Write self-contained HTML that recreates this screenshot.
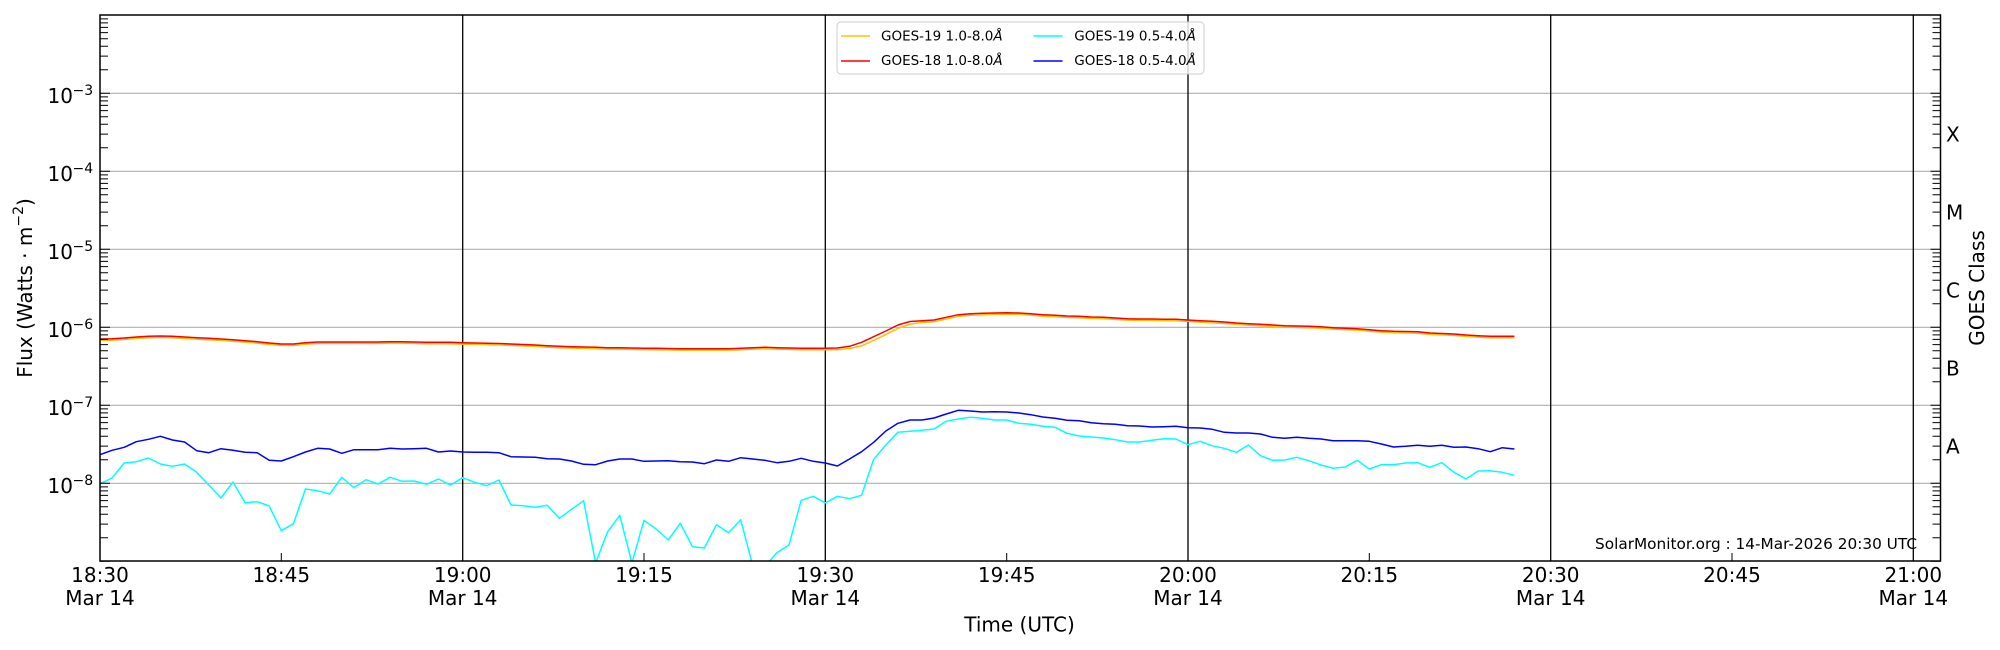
<!DOCTYPE html>
<html>
<head>
<meta charset="utf-8">
<style>
  html, body { margin: 0; padding: 0; background: #ffffff; }
  svg { display: block; }
  text { font-family: "DejaVu Sans", "Liberation Sans", sans-serif; fill: #000; }
</style>
</head>
<body>
<svg width="2000" height="650" viewBox="0 0 2000 650" xmlns="http://www.w3.org/2000/svg">
  <defs>
    <clipPath id="plot"><rect x="100" y="15" width="1840.5" height="546"/></clipPath>
    <path id="dec" d="M0,0h10M0,-23.5h8M0,-37.2h8M0,-47h8M0,-54.5h8M0,-60.7h8M0,-65.9h8M0,-70.4h8M0,-74.4h8" stroke="#000" stroke-width="1" fill="none"/>
  </defs>
  <rect x="0" y="0" width="2000" height="650" fill="#fff"/>

  <!-- horizontal grid -->
  <g stroke="#b0b0b0" stroke-width="1.2">
    <line x1="100" y1="93.3" x2="1940" y2="93.3"/>
    <line x1="100" y1="171.3" x2="1940" y2="171.3"/>
    <line x1="100" y1="249.3" x2="1940" y2="249.3"/>
    <line x1="100" y1="327.3" x2="1940" y2="327.3"/>
    <line x1="100" y1="405.3" x2="1940" y2="405.3"/>
    <line x1="100" y1="483.3" x2="1940" y2="483.3"/>
  </g>

  <!-- vertical black lines -->
  <g stroke="#000" stroke-width="1.3">
    <line x1="462.7" y1="15" x2="462.7" y2="561"/>
    <line x1="825.3" y1="15" x2="825.3" y2="561"/>
    <line x1="1188" y1="15" x2="1188" y2="561"/>
    <line x1="1550.7" y1="15" x2="1550.7" y2="561"/>
    <line x1="1913.3" y1="15" x2="1913.3" y2="561"/>
  </g>

  <!-- data -->
  <g clip-path="url(#plot)" fill="none" stroke-width="1.5" stroke-linejoin="round">
    <polyline stroke="#00ffff" points="100,483.7 112.1,478 124.2,463 136.3,461.7 148.4,458 160.4,464 172.5,466.3 184.6,464 196.7,472.3 208.8,485 220.9,498 233,482 245.1,502.7 257.2,501.7 269.2,506 281.3,530.7 293.4,523.7 305.5,489 317.6,490.7 329.7,494 341.8,477.3 353.9,487.7 366,479.7 378,484 390.1,477.3 402.2,481.3 414.3,481 426.4,484.3 438.5,479 450.6,485 462.7,477.7 474.8,482.3 486.8,485.7 498.9,480 511,505 523.1,505.7 535.2,507.3 547.3,505.3 559.4,518.3 571.5,509.3 583.6,500.7 595.6,563 607.7,531.7 619.8,515.3 631.9,563 644,520.3 656.1,529 668.2,540 680.3,523.3 692.4,546.7 704.4,548 716.5,524.7 728.6,532.7 740.7,519.7 752.8,566 764.9,566 777,552.7 789.1,544.7 801.2,500.3 813.2,496.3 825.3,503 837.4,496.3 849.5,498.7 861.6,495.3 873.7,459.3 885.8,445 897.9,432.3 910,431.3 922,430.3 934.1,429 946.2,421.3 958.3,419 970.4,417.3 982.5,418.3 994.6,420 1006.7,420 1018.8,423.3 1030.8,424.3 1042.9,426.3 1055,427.3 1067.1,433.3 1079.2,436 1091.3,437 1103.4,438 1115.5,439.7 1127.6,442 1139.6,442 1151.7,440.3 1163.8,438.7 1175.9,439 1188,444.7 1200.1,441.3 1212.2,445.7 1224.3,448.3 1236.4,452.3 1248.4,445 1260.5,455.7 1272.6,460.3 1284.7,460 1296.8,457.3 1308.9,460.7 1321,465 1333.1,468.3 1345.2,467 1357.2,460.3 1369.3,469 1381.4,464.7 1393.5,464.7 1405.6,463 1417.7,462.7 1429.8,467.3 1441.9,462.7 1454,472.3 1466,479 1478.1,471 1490.2,470.7 1502.3,472.3 1514.4,475.3"/>
    <polyline stroke="#0000ff" points="100,454.7 112.1,450.3 124.2,447.3 136.3,441.7 148.4,439.3 160.4,436.3 172.5,440 184.6,442 196.7,450.7 208.8,452.7 220.9,448.7 233,450.3 245.1,452.3 257.2,452.7 269.2,460.3 281.3,461 293.4,456.7 305.5,452 317.6,448.3 329.7,449 341.8,453.3 353.9,449.7 366,449.7 378,449.7 390.1,448.3 402.2,449 414.3,448.7 426.4,448.3 438.5,452 450.6,451 462.7,452 474.8,452.3 486.8,452.3 498.9,452.7 511,456.7 523.1,457 535.2,457.3 547.3,458.7 559.4,459 571.5,461 583.6,464.3 595.6,464.7 607.7,461 619.8,459 631.9,459 644,461.3 656.1,461 668.2,460.7 680.3,461.7 692.4,462 704.4,463.7 716.5,460 728.6,461.3 740.7,457.7 752.8,459 764.9,460.3 777,462.7 789.1,461.3 801.2,458.3 813.2,461.3 825.3,463 837.4,466 849.5,459 861.6,451.7 873.7,442.3 885.8,431 897.9,423.3 910,420 922,420 934.1,418 946.2,414 958.3,410.3 970.4,411 982.5,412 994.6,411.7 1006.7,412 1018.8,413 1030.8,414.7 1042.9,417 1055,418.3 1067.1,420.3 1079.2,420.7 1091.3,422.7 1103.4,423.7 1115.5,424.3 1127.6,425.7 1139.6,426 1151.7,427 1163.8,426.7 1175.9,426.3 1188,427.7 1200.1,428 1212.2,429.3 1224.3,432.3 1236.4,433 1248.4,433 1260.5,434 1272.6,437.3 1284.7,438.3 1296.8,437.3 1308.9,438.3 1321,439 1333.1,440.7 1345.2,440.7 1357.2,440.7 1369.3,441.3 1381.4,444 1393.5,447 1405.6,446.3 1417.7,445.3 1429.8,446.3 1441.9,445.3 1454,447.3 1466,447 1478.1,448.7 1490.2,451.7 1502.3,447.7 1514.4,449"/>
    <polyline stroke="#ffc000" transform="translate(0,1.4)" points="100,339 112.1,338.7 124.2,338 136.3,337 148.4,336.3 160.4,336 172.5,336.3 184.6,337 196.7,337.7 208.8,338.3 220.9,339 233,339.7 245.1,340.7 257.2,341.7 269.2,343 281.3,344 293.4,344 305.5,342.7 317.6,342 329.7,342 341.8,342 353.9,342 366,342 378,342 390.1,341.7 402.2,341.7 414.3,342 426.4,342.3 438.5,342.3 450.6,342.3 462.7,342.7 474.8,343 486.8,343.3 498.9,343.5 511,344 523.1,344.5 535.2,345 547.3,345.7 559.4,346.3 571.5,346.7 583.6,347 595.6,347.3 607.7,347.7 619.8,347.8 631.9,348 644,348.2 656.1,348.3 668.2,348.5 680.3,348.7 692.4,348.7 704.4,348.7 716.5,348.7 728.6,348.7 740.7,348.3 752.8,347.7 764.9,347.3 777,347.7 789.1,348 801.2,348.3 813.2,348.3 825.3,348.3 837.4,348.2 849.5,347.2 861.6,344.5 873.7,339 885.8,333.2 897.9,327 910,322.8 922,321 934.1,320.3 946.2,317.6 958.3,314.9 970.4,313.8 982.5,313.3 994.6,313 1006.7,312.7 1018.8,313 1030.8,313.7 1042.9,314.7 1055,315.3 1067.1,316 1079.2,316.3 1091.3,317 1103.4,317.3 1115.5,318 1127.6,318.7 1139.6,319 1151.7,319 1163.8,319.3 1175.9,319.3 1188,320 1200.1,320.7 1212.2,321.3 1224.3,322 1236.4,323 1248.4,323.7 1260.5,324.3 1272.6,325 1284.7,325.7 1296.8,326 1308.9,326.3 1321,326.7 1333.1,327.7 1345.2,328.2 1357.2,328.7 1369.3,329.7 1381.4,330.7 1393.5,331.3 1405.6,331.5 1417.7,331.7 1429.8,333 1441.9,333.5 1454,334 1466,335 1478.1,335.7 1490.2,336.3 1502.3,336.3 1514.4,336.3"/>
    <polyline stroke="#ff0000" points="100,339 112.1,338.7 124.2,338 136.3,337 148.4,336.3 160.4,336 172.5,336.3 184.6,337 196.7,337.7 208.8,338.3 220.9,339 233,339.7 245.1,340.7 257.2,341.7 269.2,343 281.3,344 293.4,344 305.5,342.7 317.6,342 329.7,342 341.8,342 353.9,342 366,342 378,342 390.1,341.7 402.2,341.7 414.3,342 426.4,342.3 438.5,342.3 450.6,342.3 462.7,342.7 474.8,343 486.8,343.3 498.9,343.5 511,344 523.1,344.5 535.2,345 547.3,345.7 559.4,346.3 571.5,346.7 583.6,347 595.6,347.3 607.7,347.7 619.8,347.8 631.9,348 644,348.2 656.1,348.3 668.2,348.5 680.3,348.7 692.4,348.7 704.4,348.7 716.5,348.7 728.6,348.7 740.7,348.3 752.8,347.7 764.9,347.3 777,347.7 789.1,348 801.2,348.3 813.2,348.3 825.3,348.3 837.4,348 849.5,346.3 861.6,342.3 873.7,336.7 885.8,331 897.9,325 910,321.5 922,320.7 934.1,320 946.2,317.3 958.3,314.7 970.4,313.7 982.5,313.3 994.6,313 1006.7,312.7 1018.8,313 1030.8,313.7 1042.9,314.7 1055,315.3 1067.1,316 1079.2,316.3 1091.3,317 1103.4,317.3 1115.5,318 1127.6,318.7 1139.6,319 1151.7,319 1163.8,319.3 1175.9,319.3 1188,320 1200.1,320.7 1212.2,321.3 1224.3,322 1236.4,323 1248.4,323.7 1260.5,324.3 1272.6,325 1284.7,325.7 1296.8,326 1308.9,326.3 1321,326.7 1333.1,327.7 1345.2,328.2 1357.2,328.7 1369.3,329.7 1381.4,330.7 1393.5,331.3 1405.6,331.5 1417.7,331.7 1429.8,333 1441.9,333.5 1454,334 1466,335 1478.1,335.7 1490.2,336.3 1502.3,336.3 1514.4,336.3"/>
  </g>

  <!-- y ticks left -->
  <use href="#dec" transform="translate(100,561.3)"/>
  <use href="#dec" transform="translate(100,483.3)"/>
  <use href="#dec" transform="translate(100,405.3)"/>
  <use href="#dec" transform="translate(100,327.3)"/>
  <use href="#dec" transform="translate(100,249.3)"/>
  <use href="#dec" transform="translate(100,171.3)"/>
  <use href="#dec" transform="translate(100,93.3)"/>
  <!-- y ticks right -->
  <use href="#dec" transform="translate(1940.5,561.3) scale(-1,1)"/>
  <use href="#dec" transform="translate(1940.5,483.3) scale(-1,1)"/>
  <use href="#dec" transform="translate(1940.5,405.3) scale(-1,1)"/>
  <use href="#dec" transform="translate(1940.5,327.3) scale(-1,1)"/>
  <use href="#dec" transform="translate(1940.5,249.3) scale(-1,1)"/>
  <use href="#dec" transform="translate(1940.5,171.3) scale(-1,1)"/>
  <use href="#dec" transform="translate(1940.5,93.3) scale(-1,1)"/>

  <!-- x ticks -->
  <g stroke="#000" stroke-width="1">
    <line x1="281.3" y1="561" x2="281.3" y2="553"/>
    <line x1="644" y1="561" x2="644" y2="553"/>
    <line x1="1006.7" y1="561" x2="1006.7" y2="553"/>
    <line x1="1369.3" y1="561" x2="1369.3" y2="553"/>
    <line x1="1732" y1="561" x2="1732" y2="553"/>
  </g>

  <!-- frame -->
  <rect x="100" y="15" width="1840.5" height="546" fill="none" stroke="#000" stroke-width="1.5"/>

  <!-- legend -->
  <rect x="837" y="22" width="367" height="52" rx="4" ry="4" fill="#ffffff" fill-opacity="0.8" stroke="#cccccc" stroke-width="1"/>
  <g stroke-width="1.5">
    <line x1="841" y1="36" x2="870" y2="36" stroke="#ffc000"/>
    <line x1="841" y1="61" x2="870" y2="61" stroke="#ff0000"/>
    <line x1="1033.5" y1="36" x2="1062.5" y2="36" stroke="#00ffff"/>
    <line x1="1033.5" y1="61" x2="1062.5" y2="61" stroke="#0000ff"/>
  </g>
  <g font-size="13.5">
    <text x="881" y="40.7">GOES-19 1.0-8.0<tspan font-style="italic">Å</tspan></text>
    <text x="881" y="65">GOES-18 1.0-8.0<tspan font-style="italic">Å</tspan></text>
    <text x="1074.3" y="40.7">GOES-19 0.5-4.0<tspan font-style="italic">Å</tspan></text>
    <text x="1074.3" y="65">GOES-18 0.5-4.0<tspan font-style="italic">Å</tspan></text>
  </g>

  <!-- y tick labels -->
  <g font-size="20" text-anchor="end">
    <text x="73" y="102.8">10</text>
    <text x="73" y="180.8">10</text>
    <text x="73" y="258.8">10</text>
    <text x="73" y="336.8">10</text>
    <text x="73" y="414.8">10</text>
    <text x="73" y="492.8">10</text>
  </g>
  <g font-size="14">
    <text x="72.5" y="94.8">−3</text>
    <text x="72.5" y="172.8">−4</text>
    <text x="72.5" y="250.8">−5</text>
    <text x="72.5" y="328.8">−6</text>
    <text x="72.5" y="406.8">−7</text>
    <text x="72.5" y="484.8">−8</text>
  </g>

  <!-- right class labels -->
  <g font-size="20">
    <text x="1946" y="141.6">X</text>
    <text x="1946" y="219.6">M</text>
    <text x="1946" y="297.6">C</text>
    <text x="1946" y="375.6">B</text>
    <text x="1946" y="453.6">A</text>
  </g>

  <!-- x tick labels -->
  <g font-size="20" text-anchor="middle">
    <text x="100" y="582">18:30</text>
    <text x="281.3" y="582">18:45</text>
    <text x="462.7" y="582">19:00</text>
    <text x="644" y="582">19:15</text>
    <text x="825.3" y="582">19:30</text>
    <text x="1006.7" y="582">19:45</text>
    <text x="1188" y="582">20:00</text>
    <text x="1369.3" y="582">20:15</text>
    <text x="1550.7" y="582">20:30</text>
    <text x="1732" y="582">20:45</text>
    <text x="1913.3" y="582">21:00</text>
    <text x="100" y="605">Mar 14</text>
    <text x="462.7" y="605">Mar 14</text>
    <text x="825.3" y="605">Mar 14</text>
    <text x="1188" y="605">Mar 14</text>
    <text x="1550.7" y="605">Mar 14</text>
    <text x="1913.3" y="605">Mar 14</text>
  </g>

  <!-- axis labels -->
  <text x="1019.5" y="631.7" font-size="20" text-anchor="middle">Time (UTC)</text>
  <text transform="translate(32,288) rotate(-90)" font-size="20" text-anchor="middle">Flux (Watts · m<tspan font-size="14" dy="-9">−2</tspan><tspan dy="9">)</tspan></text>
  <text transform="translate(1984,288) rotate(-90)" font-size="20" text-anchor="middle">GOES Class</text>

  <!-- watermark -->
  <text x="1595" y="549" font-size="15.5" textLength="322" lengthAdjust="spacingAndGlyphs">SolarMonitor.org : 14-Mar-2026 20:30 UTC</text>
</svg>
</body>
</html>
